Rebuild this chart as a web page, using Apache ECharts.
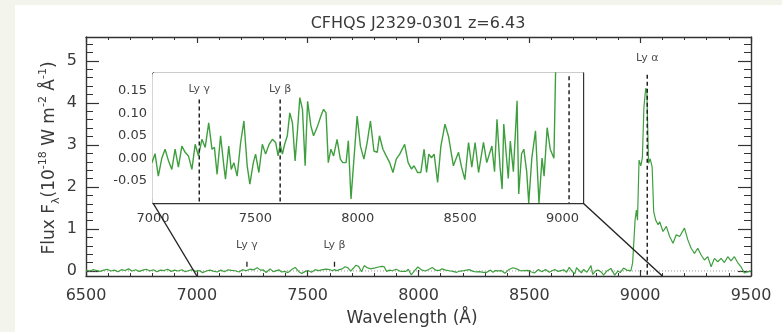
<!DOCTYPE html>
<html><head><meta charset="utf-8">
<script src="https://cdn.jsdelivr.net/npm/echarts@6/dist/echarts.min.js"></script>
<style>html,body{margin:0;padding:0;background:#f3f5ec}#c{width:782px;height:332px}</style>
</head><body><div id="c"></div>
<script>
// ---- data ----
const wavelength = [
6500,6516,6532,6548,6564,6580,6596,6612,6628,6644,6660,6676,6692,6708,6724,6740,6756,6772,6788,6804,6820,6836,6852,6868,6884,6900,6916,6932,6948,6964,6980,6995,
7010,7026,7043,7059,7075,7092,7108,7124,7141,7157,7173,7190,7206,7222,7239,7255,7272,7288,7300,7313,7330,7346,7354,7370,7382,7395,7411,7428,7444,7460,7473,7490,
7501,7517,7534,7550,7567,7583,7599,7611,7621,7632,7643,7656,7668,7681,7694,7706,7717,7730,7743,7755,7771,7784,7804,7820,7833,7845,7856,7869,7882,7899,7915,7927,
7943,7954,7967,7980,7997,8013,8030,8046,8062,8079,8095,8106,8123,8139,8156,8172,8188,8205,8229,8246,8262,8275,8292,8308,8324,8336,8347,8360,8373,8390,8406,8426,
8443,8459,8467,8492,8507,8523,8541,8557,8573,8590,8614,8630,8655,8668,8680,8695,8705,8713,8725,8735,8745,8760,8778,8786,8800,8811,8825,8835,8850,8868,8885,8900,
8910,8925,8940,8958,8966,8977,8983,8988,8995,9003,9010,9017,9025,9030,9038,9045,9054,9061,9070,9081,9088,9103,9118,9133,9148,9163,9178,9200,9215,9230,9245,9260,
9275,9290,9305,9320,9335,9350,9365,9380,9395,9410,9425,9440,9455,9470,9485,9500];
const flux = [
0.02,0.0,0.03,0.01,-0.01,0.02,0.04,0.0,0.02,-0.02,0.03,0.01,0.05,0.0,0.03,-0.01,0.02,0.04,0.0,0.03,-0.02,0.02,0.01,0.04,-0.01,0.02,0.0,0.03,-0.02,0.01,0.03,-0.01,
0.01,-0.04,0.0,0.02,-0.005,-0.025,0.02,-0.02,0.027,0.013,0.005,-0.025,0.031,0.005,0.042,0.024,0.079,0.02,0.024,-0.036,0.05,-0.017,-0.047,0.027,-0.025,-0.01,-0.04,0.035,0.083,-0.017,-0.058,-0.01,
0.009,-0.032,0.031,0.009,0.031,0.042,0.035,0.005,0.031,0.009,0.031,0.05,0.101,0.079,-0.006,0.064,0.135,0.109,-0.017,0.127,0.072,0.05,0.072,0.094,0.109,0.101,-0.01,0.02,0.005,0.042,-0.002,-0.01,
-0.01,0.039,-0.091,-0.01,0.094,0.027,-0.002,0.035,0.083,0.016,0.013,0.05,0.02,0.005,-0.01,-0.032,-0.002,0.009,0.031,-0.01,-0.024,-0.017,-0.032,-0.032,0.02,-0.032,0.009,0.001,0.009,-0.054,0.027,0.076,
0.049,0.005,-0.017,0.013,-0.02,-0.048,0.035,-0.02,0.035,-0.032,0.035,-0.01,0.027,-0.03,0.087,-0.02,-0.069,0.076,0.01,-0.045,0.038,-0.03,0.128,-0.08,0.01,0.02,-0.03,-0.1,0.0,0.061,-0.1,0.0,
-0.04,0.068,0.02,0.0,0.19,1.21,1.45,1.21,2.64,2.5,2.7,3.9,4.35,4.3,2.56,2.67,2.48,1.41,1.21,1.1,1.17,0.94,1.06,0.82,0.66,0.86,0.82,1.02,0.74,0.54,0.42,0.54,
0.38,0.26,0.34,0.1,0.3,0.22,0.3,0.2,0.34,0.24,0.34,0.2,0.1,-0.05,-0.02,0.0];
const lineNames = ['Ly α','Ly β','Ly γ'];
const lineWave = [9032, 7621, 7226];
const mainXTicks = [6500,7000,7500,8000,8500,9000,9500];
const mainYTicks = [0,1,2,3,4,5];
const insetXTicks = [7000,7500,8000,8500,9000];
const insetYTicks = [-0.05,0,0.05,0.10,0.15];
const title = 'CFHQS J2329-0301 z=6.43';

// ---- chart ----
const AX = '#333', TXT = '#3a3a3a', GREEN = '#3f9f3f', FONT = 'DejaVu Sans';
const MAIN = {xmin:6500,xmax:9500,ymin:-0.12,ymax:5.57};
const INS = {xmin:7000,xmax:9100,ymin:-0.1,ymax:0.19};
function steps(a,b,s){const r=[];for(let v=a;v<=b+1e-9;v+=s)r.push(+v.toFixed(4));return r;}
const plain = v => String(v);

function axes(dim, grid, min, max, majors, minors, majLen, minLen, labelOpt){
  const pos = dim==='x' ? ['bottom','top'] : ['left','right'];
  const out=[];
  pos.forEach((p,i)=>{
    out.push({type:'value',gridIndex:grid,position:p,min,max,
      axisLine:{show:true,onZero:false,lineStyle:{color:AX,width:1.4}},
      axisTick:{show:true,inside:true,length:majLen,customValues:majors,lineStyle:{color:AX,width:1.2}},
      axisLabel:(i===0&&labelOpt)?Object.assign({show:true,customValues:majors,color:TXT,fontFamily:FONT,formatter:plain},labelOpt):{show:false},
      splitLine:{show:false}});
    out.push({type:'value',gridIndex:grid,position:p,min,max,
      axisLine:{show:false,onZero:false},
      axisTick:{show:true,inside:true,length:minLen,customValues:minors,lineStyle:{color:AX,width:1}},
      axisLabel:{show:false},splitLine:{show:false}});
  });
  return out;
}

const xAxis = [].concat(
  axes('x',0,MAIN.xmin,MAIN.xmax,mainXTicks,steps(6500,9500,100),6,3,{fontSize:16,margin:12}),
  axes('x',1,INS.xmin,INS.xmax,insetXTicks,steps(7000,9100,100),4,2,{fontSize:13,margin:9})
);
const yAxis = [].concat(
  axes('y',0,MAIN.ymin,MAIN.ymax,mainYTicks,steps(0,5.4,0.2),13,7,{fontSize:16,margin:9}),
  axes('y',1,INS.ymin,INS.ymax,insetYTicks,steps(-0.1,0.19,0.01),8,4,{fontSize:13,margin:6,formatter:v=>v.toFixed(2)})
);

const spec = wavelength.map((w,i)=>[w,flux[i]]);
const series = [];
// zero lines
series.push({type:'line',xAxisIndex:0,yAxisIndex:0,data:[[MAIN.xmin,0],[MAIN.xmax,0]],symbol:'none',silent:true,
  lineStyle:{color:'#999',width:1,type:[1,2]},z:1});
series.push({type:'line',xAxisIndex:4,yAxisIndex:4,data:[[INS.xmin,0],[INS.xmax,0]],symbol:'none',silent:true,
  lineStyle:{color:'#aaa',width:1,type:[1,2]},z:1});
// spectra
series.push({type:'line',xAxisIndex:0,yAxisIndex:0,data:spec,symbol:'none',clip:true,lineStyle:{color:GREEN,width:1.2},z:3});
series.push({type:'line',xAxisIndex:4,yAxisIndex:4,data:spec,symbol:'none',clip:true,lineStyle:{color:GREEN,width:1.4},z:3});
const dash = {color:'#222',width:1.5,type:[4,3]};
const lblStyle = {show:true,position:'inside',fontSize:11,color:'#222',fontFamily:FONT,formatter:p=>p.name};
// Ly alpha in main
series.push({type:'line',xAxisIndex:0,yAxisIndex:0,data:[[lineWave[0],4.67],[lineWave[0],MAIN.ymin]],symbol:'none',lineStyle:dash,z:4});
// Ly beta / gamma small ticks in main
[1,2].forEach(k=>series.push({type:'line',xAxisIndex:0,yAxisIndex:0,data:[[lineWave[k],0.1],[lineWave[k],0.22]],symbol:'none',lineStyle:{color:'#222',width:1.3},z:4}));
series.push({type:'scatter',xAxisIndex:0,yAxisIndex:0,symbolSize:0,z:5,
  data:[{name:lineNames[0],value:[lineWave[0],5.06]},{name:lineNames[1],value:[lineWave[1],0.62]},{name:lineNames[2],value:[lineWave[2],0.62]}],label:lblStyle});
// inset dashed lines
[1,2].forEach(k=>series.push({type:'line',xAxisIndex:4,yAxisIndex:4,data:[[lineWave[k],0.131],[lineWave[k],INS.ymin]],symbol:'none',lineStyle:dash,z:4}));
series.push({type:'line',xAxisIndex:4,yAxisIndex:4,data:[[lineWave[0],0.183],[lineWave[0],INS.ymin]],symbol:'none',lineStyle:dash,z:4});
series.push({type:'scatter',xAxisIndex:4,yAxisIndex:4,symbolSize:0,z:5,
  data:[{name:lineNames[1],value:[lineWave[1],0.153]},{name:lineNames[2],value:[lineWave[2],0.153]}],label:lblStyle});

const chart = echarts.init(document.getElementById('c'),null,{renderer:'canvas'});
chart.setOption({
  animation:false,
  backgroundColor:'#f3f5ec',
  grid:[
    {left:86,right:31,top:37,bottom:56,show:false},
    {left:153,right:199,top:73,bottom:129,show:true,backgroundColor:'#fff',borderWidth:0,z:2}
  ],
  xAxis, yAxis, series,
  graphic:[
    {type:'rect',shape:{x:15,y:5,width:782,height:332},style:{fill:'#fff'},z:-10,silent:true},
    {type:'text',x:418,y:24,style:{text:title,fontSize:16,fontFamily:FONT,fill:TXT,align:'center',verticalAlign:'middle'}},
    {type:'text',x:412,y:319,style:{text:'Wavelength (Å)',fontSize:17,fontFamily:FONT,fill:TXT,align:'center',verticalAlign:'middle'}},
    {type:'text',x:50,y:158,rotation:Math.PI/2,style:{
      text:'Flux F{sub|λ}(10{sup|-18} W m{sup|-2} Å{sup|-1})',
      fontSize:17,fontFamily:FONT,fill:TXT,align:'center',verticalAlign:'middle',lineHeight:24,
      rich:{sub:{fontSize:11,fontFamily:FONT,fill:TXT,verticalAlign:'bottom',lineHeight:24},
            sup:{fontSize:11,fontFamily:FONT,fill:TXT,verticalAlign:'top',lineHeight:12}}}}
  ]
});
// connector lines from inset to main axis (positions via the chart's own scales)
const a1 = chart.convertToPixel({gridIndex:1},[INS.xmin,INS.ymin]);
const b1 = chart.convertToPixel({gridIndex:0},[INS.xmin,MAIN.ymin]);
const a2 = chart.convertToPixel({gridIndex:1},[INS.xmax,INS.ymin]);
const b2 = chart.convertToPixel({gridIndex:0},[INS.xmax,MAIN.ymin]);
chart.setOption({graphic:[
  {type:'rect',shape:{x:15,y:5,width:782,height:332},style:{fill:'#fff'},z:-10,silent:true},
  {}, {}, {},
  {type:'line',shape:{x1:a1[0],y1:a1[1],x2:b1[0],y2:b1[1]},style:{stroke:'#222',lineWidth:1.4},z:10},
  {type:'line',shape:{x1:a2[0],y1:a2[1],x2:b2[0],y2:b2[1]},style:{stroke:'#222',lineWidth:1.4},z:10}
]});
</script></body></html>
